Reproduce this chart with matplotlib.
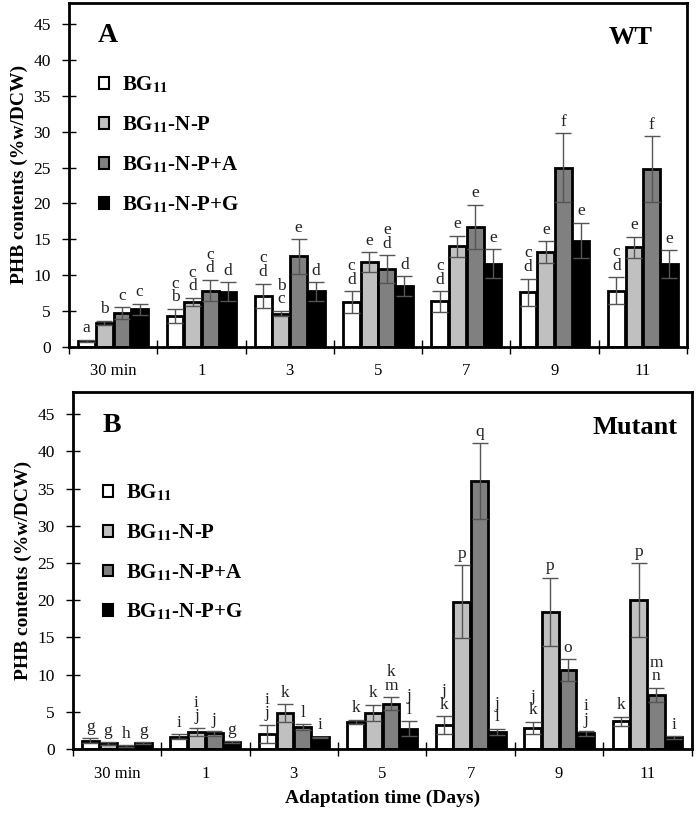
import matplotlib.pyplot as plt
import numpy as np

plt.rcParams['font.family'] = ['Liberation Serif', 'DejaVu Serif']
plt.rcParams['mathtext.fontset'] = 'stix'

# DATA
days = ['30 min', '1', '3', '5', '7', '9', '11']
treatments = ['BG$_{\\mathbf{11}}$', 'BG$_{\\mathbf{11}}$-N-P',
              'BG$_{\\mathbf{11}}$-N-P+A', 'BG$_{\\mathbf{11}}$-N-P+G']
colors = ['white', '#c0c0c0', '#808080', 'black']

# wild type
wt_bg11 = [0.8, 4.3, 7.1, 6.2, 6.3, 7.6, 7.8]
wt_bg11_err = [0.15, 1.0, 1.7, 1.5, 1.45, 1.9, 1.9]
wt_np = [3.3, 6.2, 4.6, 11.8, 14.0, 13.2, 13.85]
wt_np_err = [0.3, 0.6, 0.4, 1.4, 1.5, 1.5, 1.5]
wt_npa = [4.7, 7.8, 12.6, 10.8, 16.7, 25.0, 24.8]
wt_npa_err = [0.8, 1.5, 2.4, 1.95, 3.1, 4.8, 4.6]
wt_npg = [5.2, 7.65, 7.7, 8.4, 11.6, 14.8, 11.5]
wt_npg_err = [0.8, 1.3, 1.3, 1.4, 2.0, 2.5, 1.95]

wt_bg11_lab = ['a', 'c\nb', 'c\nd', 'c\nd', 'c\nd', 'c\nd', 'c\nd']
wt_np_lab = ['b', 'c\nd', 'b\nc', 'e', 'e', 'e', 'e']
wt_npa_lab = ['c', 'c\nd', 'e', 'e\nd', 'e', 'f', 'f']
wt_npg_lab = ['c', 'd', 'd', 'd', 'e', 'e', 'e']

# mutant
mu_bg11 = [1.1, 1.65, 2.05, 3.65, 3.2, 2.85, 3.75]
mu_bg11_err = [0.35, 0.3, 1.2, 0.3, 1.2, 0.8, 0.6]
mu_np = [0.75, 2.3, 4.8, 4.85, 19.8, 18.4, 20.0]
mu_np_err = [0.15, 0.55, 1.2, 1.1, 4.9, 4.6, 5.0]
mu_npa = [0.4, 2.1, 2.9, 6.1, 36.0, 10.6, 7.25]
mu_npa_err = [0.1, 0.3, 0.4, 0.85, 5.1, 1.45, 1.0]
mu_npg = [0.8, 0.95, 1.55, 2.7, 2.3, 2.1, 1.55]
mu_npg_err = [0.1, 0.1, 0.1, 1.0, 0.4, 0.3, 0.15]

mu_bg11_lab = ['g', 'i', 'i\nj', 'k', 'j\nk', 'j\nk', 'k']
mu_np_lab = ['g', 'i\nj', 'k', 'k', 'p', 'p', 'p']
mu_npa_lab = ['h', 'j', 'l', 'k\nm', 'q', 'o', 'm\nn']
mu_npg_lab = ['g', 'g', 'i', 'j\nl', 'j\nl', 'i\nj', 'i']

fig = plt.figure(figsize=(6.96, 8.19), dpi=100)
ax_a = fig.add_axes([0.0991, 0.5769, 0.888, 0.4194])
ax_b = fig.add_axes([0.1045, 0.0855, 0.8894, 0.4359])

x = np.arange(len(days))
width = 0.19


def draw_panel(ax, vals, errs, labs, letter, name, leg_y):
    handles = []
    for i in range(4):
        pos = x + (i - 1.5) * 0.2
        b = ax.bar(pos, vals[i], width, color=colors[i], edgecolor='black',
                   linewidth=2, label=treatments[i], zorder=2)
        handles.append(b)
        ax.errorbar(pos, vals[i], yerr=errs[i], fmt='none', ecolor='#555555',
                    elinewidth=1, capsize=5.5, capthick=1, zorder=3)
        for p, v, e, t in zip(pos, vals[i], errs[i], labs[i]):
            ax.annotate(t, (p, v + e), xytext=(0, 2.5), textcoords='offset points',
                        ha='center', va='bottom', fontsize=12.5, linespacing=0.8,
                        color='#222222')
    ax.set_xlim(-0.5, len(days) - 0.5)
    ax.set_ylim(0, 48)
    ax.set_yticks(range(0, 50, 5))
    ax.set_xticks(x)
    ax.set_xticklabels(days, fontsize=12)
    ax.set_xticks(np.arange(-0.5, len(days), 1), minor=True)
    ax.tick_params(axis='x', which='major', length=0, pad=12)
    ax.tick_params(axis='x', which='minor', direction='inout', length=10, width=1)
    ax.tick_params(axis='y', direction='inout', length=10, width=1, labelsize=12.5, pad=8)
    for s in ax.spines.values():
        s.set_linewidth(2)
    ax.set_ylabel('PHB contents (%w/DCW)', fontsize=14, fontweight='bold', labelpad=4)
    ax.text(0.063, 0.905, letter, transform=ax.transAxes, fontsize=20,
            fontweight='bold', ha='center', va='center')
    ax.text(0.908, 0.9, name, transform=ax.transAxes, fontsize=19,
            fontweight='bold', ha='center', va='center')
    leg = ax.legend(handles=handles, loc='upper left', bbox_to_anchor=(0.035, leg_y),
                    frameon=False, prop={'size': 15, 'weight': 'bold'},
                    handlelength=0.5, handleheight=0.5, handletextpad=0.6,
                    labelspacing=0.92, borderaxespad=0)
    for h in leg.legend_handles:
        h.set_linewidth(1.5)


draw_panel(ax_a,
           [wt_bg11, wt_np, wt_npa, wt_npg],
           [wt_bg11_err, wt_np_err, wt_npa_err, wt_npg_err],
           [wt_bg11_lab, wt_np_lab, wt_npa_lab, wt_npg_lab], 'A', 'WT', 0.815)
draw_panel(ax_b,
           [mu_bg11, mu_np, mu_npa, mu_npg],
           [mu_bg11_err, mu_np_err, mu_npa_err, mu_npg_err],
           [mu_bg11_lab, mu_np_lab, mu_npa_lab, mu_npg_lab], 'B', 'Mutant', 0.77)
ax_b.set_xlabel('Adaptation time (Days)', fontsize=14, fontweight='bold', labelpad=6)

fig.savefig('out.png', dpi=100)
